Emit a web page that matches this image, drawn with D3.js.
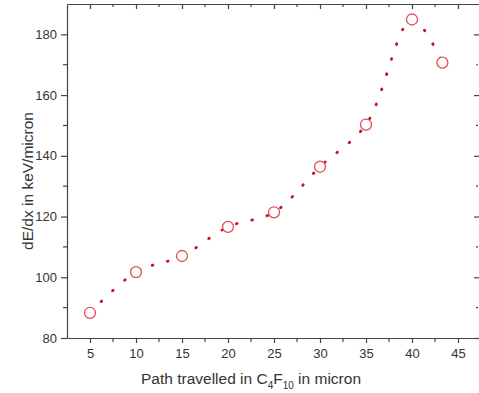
<!DOCTYPE html>
<html>
<head>
<meta charset="utf-8">
<script src="https://cdn.jsdelivr.net/npm/d3@7"></script>
<style>
  body { margin: 0; background: #fff; }
  svg text { font-family: "Liberation Sans", Arial, sans-serif; fill: #333; }
</style>
</head>
<body>
<div id="chart"></div>
<script>
// data
const pathTravelled = [5, 10, 15, 20, 25, 30, 35, 40, 43.3];
const dEdx = [88.3, 101.7, 107, 116.6, 121.4, 136.4, 150.3, 184.9, 170.7];
const xTickValues = [5, 10, 15, 20, 25, 30, 35, 40, 45];
const yTickValues = [80, 100, 120, 140, 160, 180];
const xMinorValues = [7.5, 12.5, 17.5, 22.5, 27.5, 32.5, 37.5, 42.5];
const yMinorValues = [90, 110, 130, 150, 170];

const width = 479, height = 393;
const plotLeft = 67, plotRight = 481, plotTop = 4, plotBottom = 338;

const svg = d3.select("#chart").append("svg")
  .attr("width", width)
  .attr("height", height);

const x = d3.scaleLinear().domain([2.5, 47.5]).range([plotLeft, plotRight]);
const y = d3.scaleLinear().domain([80, 190]).range([plotBottom, plotTop]);

const axisColor = "#444";

// bottom axis, ticks outward
const xAxis = svg.append("g")
  .attr("transform", "translate(0," + plotBottom + ")")
  .call(d3.axisBottom(x).tickValues(xTickValues).tickSize(5).tickPadding(6).tickSizeOuter(0));
xAxis.append("g").selectAll("line")
  .data(xMinorValues).enter().append("line")
  .attr("x1", d => x(d)).attr("x2", d => x(d))
  .attr("y1", 0).attr("y2", 4);

// left axis, ticks outward
const yAxis = svg.append("g")
  .attr("transform", "translate(" + plotLeft + ",0)")
  .call(d3.axisLeft(y).tickValues(yTickValues).tickSize(6).tickPadding(4).tickSizeOuter(0));
yAxis.append("g").selectAll("line")
  .data(yMinorValues).enter().append("line")
  .attr("y1", d => y(d)).attr("y2", d => y(d))
  .attr("x1", 0).attr("x2", -4);

// top axis, ticks pointing down into the plot
const topAxis = svg.append("g")
  .attr("transform", "translate(0," + plotTop + ")")
  .call(d3.axisTop(x).tickValues(xTickValues).tickSize(-5).tickFormat("").tickSizeOuter(0));
topAxis.append("g").selectAll("line")
  .data(xMinorValues).enter().append("line")
  .attr("x1", d => x(d)).attr("x2", d => x(d))
  .attr("y1", 0).attr("y2", 3);

// right axis, ticks pointing in
const rightAxis = svg.append("g")
  .attr("transform", "translate(" + plotRight + ",0)")
  .call(d3.axisRight(y).tickValues(yTickValues).tickSize(-7).tickFormat("").tickSizeOuter(0));
rightAxis.append("g").selectAll("line")
  .data(yMinorValues).enter().append("line")
  .attr("y1", d => y(d)).attr("y2", d => y(d))
  .attr("x1", -3).attr("x2", -5);

svg.selectAll(".domain, .tick line, g > g > line")
  .attr("stroke", axisColor)
  .attr("stroke-width", 1.2);
svg.selectAll(".tick text")
  .style("font-size", "13px")
  .attr("fill", "#333");

// dotted spline through the points
const pts = pathTravelled.map((d, i) => [d, dEdx[i]]);
const line = d3.line()
  .x(d => x(d[0]))
  .y(d => y(d[1]))
  .curve(d3.curveCatmullRom.alpha(0.5));

svg.append("path")
  .datum(pts)
  .attr("d", line)
  .attr("fill", "none")
  .attr("stroke", "#c8102e")
  .attr("stroke-width", 2.8)
  .attr("stroke-linecap", "round")
  .attr("stroke-dasharray", "0.8 15");

// open circles
svg.selectAll("circle.pt")
  .data(pts).enter().append("circle")
  .attr("class", "pt")
  .attr("cx", d => x(d[0]))
  .attr("cy", d => y(d[1]))
  .attr("r", 5.5)
  .attr("fill", "#fff")
  .attr("stroke", "#e0505a")
  .attr("stroke-width", 1.3);

// axis titles
svg.append("text")
  .attr("transform", "translate(33,181) rotate(-90)")
  .attr("text-anchor", "middle")
  .style("font-size", "15.5px")
  .text("dE/dx in keV/micron");

const xt = svg.append("text")
  .attr("x", 251)
  .attr("y", 384)
  .attr("text-anchor", "middle")
  .style("font-size", "15.5px");
xt.append("tspan").text("Path travelled in C");
xt.append("tspan").attr("dy", 5).style("font-size", "10px").text("4");
xt.append("tspan").attr("dy", -5).text("F");
xt.append("tspan").attr("dy", 5).style("font-size", "10px").text("10");
xt.append("tspan").attr("dy", -5).text(" in micron");
</script>
</body>
</html>
